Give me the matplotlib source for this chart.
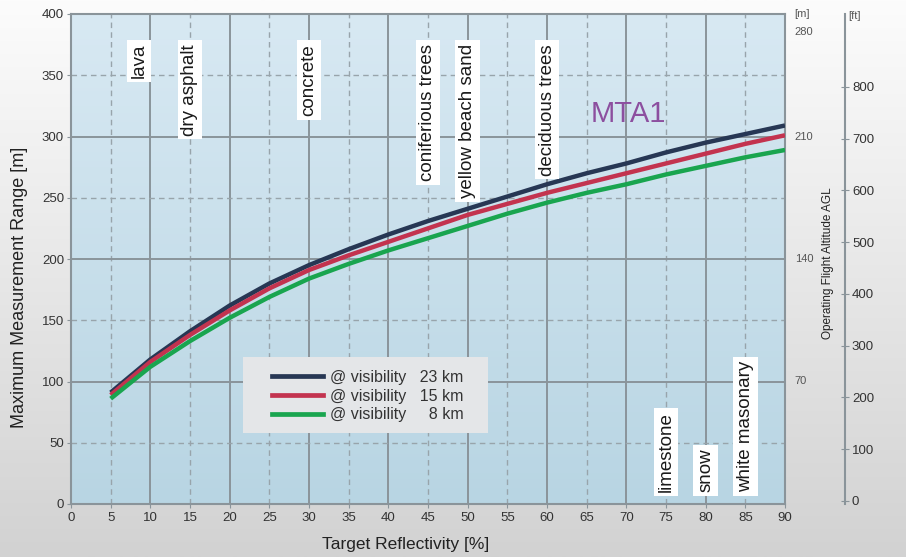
import numpy as np
import matplotlib
matplotlib.use("Agg")
import matplotlib.pyplot as plt
from matplotlib.patches import Rectangle
from matplotlib.lines import Line2D
from matplotlib.colors import LinearSegmentedColormap
from matplotlib.transforms import blended_transform_factory

# ---------------- data ----------------
reflectivity = [5, 10, 15, 20, 25, 30, 35, 40, 45, 50, 55, 60, 65, 70, 75, 80, 85, 90]
range_23km = [91, 118, 141, 162, 180, 195, 208, 220, 231, 241, 251, 261, 270, 278, 287, 295, 302, 309]
range_15km = [89, 116, 138, 158, 176, 191, 203, 214, 225, 236, 245, 254, 262, 270, 278, 286, 294, 301]
range_8km = [86, 112, 133, 152, 169, 184, 196, 207, 217, 227, 237, 246, 254, 261, 269, 276, 283, 289]
series_labels = ["@ visibility   23 km", "@ visibility   15 km", "@ visibility     8 km"]
series_colors = ["#273754", "#c3334f", "#19a54f"]

top_materials = ["lava", "dry asphalt", "concrete", "coniferious trees", "yellow beach sand", "deciduous trees"]
top_material_refl = [8.6, 15, 30, 45, 50, 60]
bottom_materials = ["limestone", "snow", "white masonary"]
bottom_material_refl = [75, 80, 85]

x_ticks = list(range(0, 91, 5))
y_ticks = list(range(0, 401, 50))
altitude_m_labels = [70, 140, 210, 280]
altitude_to_range = 1 / 0.7
altitude_ft_ticks = [0, 100, 200, 300, 400, 500, 600, 700, 800]

plt.rcParams["font.family"] = ["Liberation Sans", "DejaVu Sans"]

W, H = 906, 557
fig = plt.figure(figsize=(W / 100, H / 100), dpi=100)

# figure background gradient
grad = np.linspace(0, 1, 256).reshape(-1, 1)
bg = fig.add_axes([0, 0, 1, 1], zorder=-10)
bg.axis("off")
bg.imshow(grad, aspect="auto", origin="upper", extent=[0, 1, 0, 1],
          cmap=LinearSegmentedColormap.from_list("bg", ["#fcfcfc", "#d2d2d2"]))

# main axes
L, R, T, B = 71, 785, 14, 504
ax = fig.add_axes([L / W, 1 - B / H, (R - L) / W, (B - T) / H])
ax.patch.set_visible(False)
ax.imshow(grad, aspect="auto", origin="upper", extent=[0, 90, 0, 400], zorder=0,
          cmap=LinearSegmentedColormap.from_list("pa", ["#d8e9f3", "#b8d5e3"]))
ax.set_xlim(0, 90)
ax.set_ylim(0, 400)

gcol = "#8a949a"
for v in range(5, 90, 5):
    if v % 10 == 0:
        ax.axvline(v, color=gcol, lw=1.4, zorder=1)
    else:
        ax.axvline(v, color="#98a4ab", lw=1.0, ls=(0, (4, 3)), zorder=1)
for v in range(50, 400, 50):
    if v % 100 == 0:
        ax.axhline(v, color=gcol, lw=1.4, zorder=1)
    else:
        ax.axhline(v, color="#98a4ab", lw=1.0, ls=(0, (4, 3)), zorder=1)

for s in ax.spines.values():
    s.set_color(gcol)
    s.set_linewidth(1.5)

ax.set_xticks(x_ticks)
ax.set_yticks(y_ticks)
ax.tick_params(axis="both", length=3, color=gcol, labelcolor="#333333", pad=2)
ax.tick_params(axis="x", labelsize=9.5, pad=3)
ax.tick_params(axis="y", labelsize=9.5)

# curves
for vals, col in zip([range_23km, range_15km, range_8km], series_colors):
    ax.plot(reflectivity, vals, color=col, lw=3.2, solid_capstyle="butt", zorder=3)

# legend
ax.add_patch(Rectangle(((243 - L) / (R - L), (B - 433) / (B - T)), 245 / (R - L), 76 / (B - T),
                       transform=ax.transAxes, fc="#e4e6e8", ec="none", zorder=4))
handles = [Line2D([], [], color=c, lw=3.4) for c in series_colors]
leg = ax.legend(handles, series_labels, loc="center",
                bbox_to_anchor=((368 - L) / (R - L), (B - 396) / (B - T)),
                frameon=False, fontsize=11.5, handlelength=3.2, handletextpad=0.45,
                labelspacing=0.25, borderpad=0)
leg.set_zorder(5)
for t in leg.get_texts():
    t.set_color("#333333")

# MTA1
ax.text(70.3, 318, "MTA1", fontsize=21, color="#8c4f9f", ha="center", va="center", zorder=4)

# material labels
trans = blended_transform_factory(ax.transData, ax.transAxes)
box = dict(boxstyle="square,pad=0.2", fc="white", ec="none")
for name, x in zip(top_materials, top_material_refl):
    ax.text(x, (B - 44) / (B - T), name, rotation=90, ha="center", va="top", transform=trans,
            fontsize=13.5, color="#1a1a1a", bbox=box, zorder=6)
for name, x in zip(bottom_materials, bottom_material_refl):
    ax.text(x, (B - 492) / (B - T), name, rotation=90, ha="center", va="bottom", transform=trans,
            fontsize=13.5, color="#1a1a1a", bbox=box, zorder=6)

# axis labels
ax.set_xlabel("Target Reflectivity [%]", fontsize=12.5, color="#222222")
ax.xaxis.set_label_coords((406 - L) / (R - L), -(537 - B) / (B - T))
ax.set_ylabel("Maximum Measurement Range [m]", fontsize=13, color="#222222")
ax.yaxis.set_label_coords(-(L - 28) / (R - L), (B - 287) / (B - T))

# right [m] labels
trans_m = blended_transform_factory(ax.transAxes, ax.transData)
for m in altitude_m_labels:
    yv = m * altitude_to_range
    dy = -13 if yv >= 400 else 0
    ax.annotate(str(m), xy=(1, yv), xycoords=trans_m, xytext=(7, dy), textcoords="offset points",
                ha="left", va="center", fontsize=8, color="#555555", annotation_clip=False)
ax.annotate("[m]", xy=(1, 400), xycoords=trans_m, xytext=(7, 0), textcoords="offset points",
            ha="left", va="center", fontsize=8, color="#555555", annotation_clip=False)

# ft axis
ftx = 845 / W
ax2 = fig.add_axes([ftx - 0.0005, 1 - B / H, 0.0005, (B - T) / H])
ax2.patch.set_visible(False)
for k in ["left", "top", "bottom"]:
    ax2.spines[k].set_visible(False)
ax2.spines["right"].set_color(gcol)
ax2.spines["right"].set_linewidth(1.5)
ax2.set_xticks([])
ax2.set_ylim(-6, 941)
ax2.yaxis.tick_right()
ax2.set_yticks(altitude_ft_ticks)
ax2.tick_params(axis="y", direction="inout", length=6, color=gcol, labelsize=9.5,
                labelcolor="#333333", pad=2)
fig.text(848 / W, 1 - 16 / H, "[ft]", fontsize=8, ha="left", va="center", color="#555555")
fig.text(828 / W, 1 - 263 / H, "Operating Flight Altitude AGL", rotation=90, ha="center",
         va="center", fontsize=8.5, color="#222222")

fig.savefig("out.png", dpi=100)
